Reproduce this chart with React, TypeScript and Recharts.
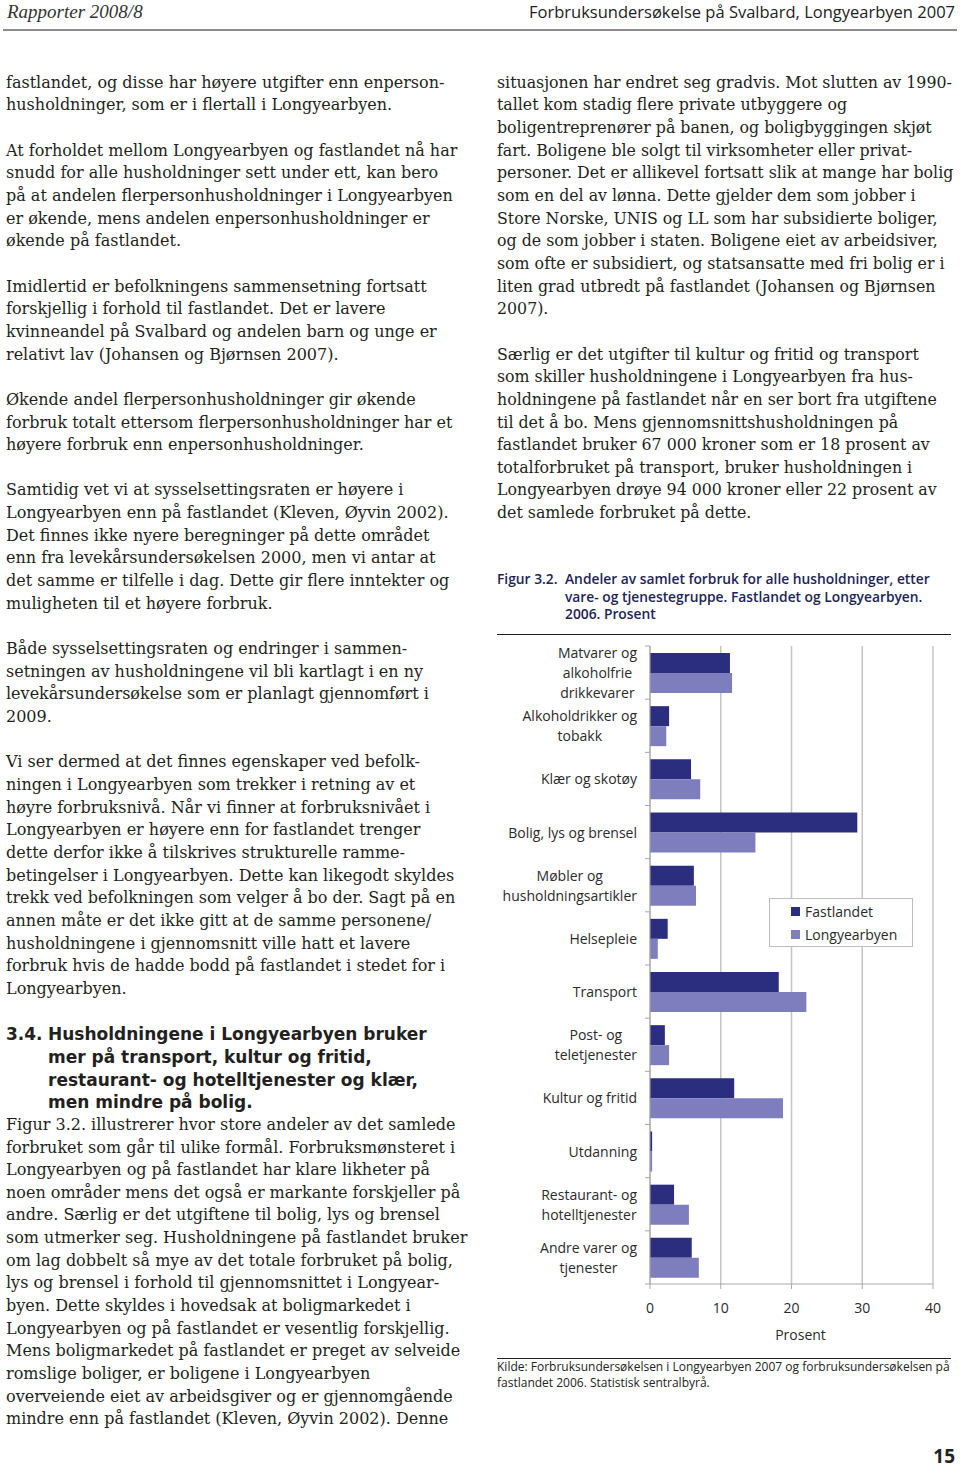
import React from 'react';
import { BarChart, Bar, XAxis, YAxis, CartesianGrid, Legend } from 'recharts';

const categories = [
  'Matvarer og\nalkoholfrie\ndrikkevarer',
  'Alkoholdrikker og\ntobakk',
  'Klær og skotøy',
  'Bolig, lys og brensel',
  'Møbler og\nhusholdningsartikler',
  'Helsepleie',
  'Transport',
  'Post- og\nteletjenester',
  'Kultur og fritid',
  'Utdanning',
  'Restaurant- og\nhotelltjenester',
  'Andre varer og\ntjenester',
];
const fastlandet = [11.3, 2.7, 5.8, 29.3, 6.2, 2.5, 18.2, 2.1, 11.9, 0.3, 3.4, 5.9];
const longyearbyen = [11.6, 2.3, 7.1, 14.9, 6.5, 1.1, 22.1, 2.7, 18.8, 0.3, 5.5, 6.9];
const xTicks = [0, 10, 20, 30, 40];

const leftLines = [
  'fastlandet, og disse har høyere utgifter enn enperson-',
  'husholdninger, som er i flertall i Longyearbyen.',
  '',
  'At forholdet mellom Longyearbyen og fastlandet nå har',
  'snudd for alle husholdninger sett under ett, kan bero',
  'på at andelen flerpersonhusholdninger i Longyearbyen',
  'er økende, mens andelen enpersonhusholdninger er',
  'økende på fastlandet.',
  '',
  'Imidlertid er befolkningens sammensetning fortsatt',
  'forskjellig i forhold til fastlandet. Det er lavere',
  'kvinneandel på Svalbard og andelen barn og unge er',
  'relativt lav (Johansen og Bjørnsen 2007).',
  '',
  'Økende andel flerpersonhusholdninger gir økende',
  'forbruk totalt ettersom flerpersonhusholdninger har et',
  'høyere forbruk enn enpersonhusholdninger.',
  '',
  'Samtidig vet vi at sysselsettingsraten er høyere i',
  'Longyearbyen enn på fastlandet (Kleven, Øyvin 2002).',
  'Det finnes ikke nyere beregninger på dette området',
  'enn fra levekårsundersøkelsen 2000, men vi antar at',
  'det samme er tilfelle i dag. Dette gir flere inntekter og',
  'muligheten til et høyere forbruk.',
  '',
  'Både sysselsettingsraten og endringer i sammen-',
  'setningen av husholdningene vil bli kartlagt i en ny',
  'levekårsundersøkelse som er planlagt gjennomført i',
  '2009.',
  '',
  'Vi ser dermed at det finnes egenskaper ved befolk-',
  'ningen i Longyearbyen som trekker i retning av et',
  'høyre forbruksnivå. Når vi finner at forbruksnivået i',
  'Longyearbyen er høyere enn for fastlandet trenger',
  'dette derfor ikke å tilskrives strukturelle ramme-',
  'betingelser i Longyearbyen. Dette kan likegodt skyldes',
  'trekk ved befolkningen som velger å bo der. Sagt på en',
  'annen måte er det ikke gitt at de samme personene/',
  'husholdningene i gjennomsnitt ville hatt et lavere',
  'forbruk hvis de hadde bodd på fastlandet i stedet for i',
  'Longyearbyen.',
  '',
  '#3.4.|Husholdningene i Longyearbyen bruker',
  '#|mer på transport, kultur og fritid,',
  '#|restaurant- og hotelltjenester og klær,',
  '#|men mindre på bolig.',
  'Figur 3.2. illustrerer hvor store andeler av det samlede',
  'forbruket som går til ulike formål. Forbruksmønsteret i',
  'Longyearbyen og på fastlandet har klare likheter på',
  'noen områder mens det også er markante forskjeller på',
  'andre. Særlig er det utgiftene til bolig, lys og brensel',
  'som utmerker seg. Husholdningene på fastlandet bruker',
  'om lag dobbelt så mye av det totale forbruket på bolig,',
  'lys og brensel i forhold til gjennomsnittet i Longyear-',
  'byen. Dette skyldes i hovedsak at boligmarkedet i',
  'Longyearbyen og på fastlandet er vesentlig forskjellig.',
  'Mens boligmarkedet på fastlandet er preget av selveide',
  'romslige boliger, er boligene i Longyearbyen',
  'overveiende eiet av arbeidsgiver og er gjennomgående',
  'mindre enn på fastlandet (Kleven, Øyvin 2002). Denne',
];

const rightLines = [
  'situasjonen har endret seg gradvis. Mot slutten av 1990-',
  'tallet kom stadig flere private utbyggere og',
  'boligentreprenører på banen, og boligbyggingen skjøt',
  'fart. Boligene ble solgt til virksomheter eller privat-',
  'personer. Det er allikevel fortsatt slik at mange har bolig',
  'som en del av lønna. Dette gjelder dem som jobber i',
  'Store Norske, UNIS og LL som har subsidierte boliger,',
  'og de som jobber i staten. Boligene eiet av arbeidsiver,',
  'som ofte er subsidiert, og statsansatte med fri bolig er i',
  'liten grad utbredt på fastlandet (Johansen og Bjørnsen',
  '2007).',
  '',
  'Særlig er det utgifter til kultur og fritid og transport',
  'som skiller husholdningene i Longyearbyen fra hus-',
  'holdningene på fastlandet når en ser bort fra utgiftene',
  'til det å bo. Mens gjennomsnittshusholdningen på',
  'fastlandet bruker 67 000 kroner som er 18 prosent av',
  'totalforbruket på transport, bruker husholdningen i',
  'Longyearbyen drøye 94 000 kroner eller 22 prosent av',
  'det samlede forbruket på dette.',
];

const captionLines = [
  'Andeler av samlet forbruk for alle husholdninger, etter',
  'vare- og tjenestegruppe. Fastlandet og Longyearbyen.',
  '2006. Prosent',
];
const sourceLines = [
  'Kilde: Forbruksundersøkelsen i Longyearbyen 2007 og forbruksundersøkelsen på',
  'fastlandet 2006. Statistisk sentralbyrå.',
];

const data = categories.map((name, i) => ({
  name,
  Fastlandet: fastlandet[i],
  Longyearbyen: longyearbyen[i],
}));

const DARK = '#2b2e7e';
const LIGHT = '#7e7dbd';
const AXIS = '#a8a8a8';
const GRID = '#c4c4c4';
const INK = '#231f20';
const SANS = '"Open Sans", "Noto Sans", sans-serif';
const SERIF = '"DejaVu Serif", serif';
const LABEL_SIZE = 14;

const CHART_W = 460;
const CHART_H = 720;
const MARGIN = { top: 16, right: 17, bottom: 36, left: 10 };
const X_AXIS_H = 30;
const LINE_H = 22.67;

let ctx: CanvasRenderingContext2D | null = null;
function textWidth(s: string) {
  if (!ctx) ctx = document.createElement('canvas').getContext('2d');
  if (!ctx) return s.length * 7;
  ctx.font = `${LABEL_SIZE}px "Open Sans"`;
  return ctx.measureText(s).width;
}

function CategoryTick(props: any) {
  const { x, y, payload, index } = props;
  const axisX = x + 13;
  const band = (CHART_H - MARGIN.top - MARGIN.bottom - X_AXIS_H) / categories.length;
  const half = band / 2;
  const lines = String(payload.value).split('\n');
  const maxW = Math.max(...lines.map(textWidth));
  const cx = x - maxW / 2;
  const startY = y - ((lines.length - 1) * 20) / 2;
  return (
    <g>
      <line x1={axisX - 5} x2={axisX} y1={y - half} y2={y - half} stroke={AXIS} />
      {index === categories.length - 1 && (
        <line x1={axisX - 5} x2={axisX} y1={y + half} y2={y + half} stroke={AXIS} />
      )}
      {lines.map((l, i) => (
        <text key={i} x={cx} y={startY + i * 20} textAnchor="middle" dominantBaseline="central"
          fill="#2a2a2a" fontSize={LABEL_SIZE} fontFamily={SANS}>{l}</text>
      ))}
    </g>
  );
}

function LegendBox(props: any) {
  const items = props.payload || [];
  return (
    <div style={{ width: 142, height: 47, border: '1px solid #bdbdbd', background: '#fff',
      fontFamily: SANS, fontSize: LABEL_SIZE, color: '#2a2a2a', position: 'relative' }}>
      {items.map((it: any, i: number) => (
        <div key={i} style={{ position: 'absolute', left: 21, top: 3 + i * 23, height: 18,
          display: 'flex', alignItems: 'center', whiteSpace: 'nowrap' }}>
          <span style={{ display: 'inline-block', width: 9, height: 9, background: it.color, marginRight: 5 }} />
          {it.value}
        </div>
      ))}
    </div>
  );
}

function TextLine({ text }: { text: string }) {
  if (text.startsWith('#')) {
    const [num, rest] = text.slice(1).split('|');
    return (
      <div style={{ height: LINE_H, lineHeight: `${LINE_H}px`, fontFamily: '"DejaVu Sans", sans-serif',
        fontWeight: 700, fontSize: 17, whiteSpace: 'nowrap' }}>
        <span style={{ display: 'inline-block', width: 42 }}>{num}</span>{rest}
      </div>
    );
  }
  return <div style={{ height: LINE_H, lineHeight: `${LINE_H}px`, whiteSpace: 'nowrap' }}>{text}</div>;
}

export default function App() {
  return (
    <div style={{ position: 'absolute', left: 0, top: 0, width: 960, height: 1469, background: '#fff',
      overflow: 'hidden', color: INK }}>
      <div style={{ position: 'absolute', left: 7, top: 0, height: 24, lineHeight: '24px',
        fontFamily: '"Liberation Serif", serif', fontStyle: 'italic', fontSize: 19, color: '#333' }}>
        Rapporter 2008/8
      </div>
      <div style={{ position: 'absolute', right: 5, top: 0, height: 24, lineHeight: '24px',
        fontFamily: SANS, fontSize: 16.5, color: '#222' }}>
        Forbruksundersøkelse på Svalbard, Longyearbyen 2007
      </div>
      <div style={{ position: 'absolute', left: 3, top: 29, width: 954, height: 2, background: '#8c8c8c' }} />

      <div style={{ position: 'absolute', left: 6, top: 83 - LINE_H / 2, fontFamily: SERIF, fontSize: 16 }}>
        {leftLines.map((t, i) => <TextLine key={i} text={t} />)}
      </div>
      <div style={{ position: 'absolute', left: 497, top: 83 - LINE_H / 2, fontFamily: SERIF, fontSize: 15.8 }}>
        {rightLines.map((t, i) => <TextLine key={i} text={t} />)}
      </div>

      <div style={{ position: 'absolute', left: 497, top: 570, fontFamily: SANS, fontWeight: 600,
        fontSize: 13.8, lineHeight: '17.5px', color: '#1d2455' }}>
        Figur 3.2.
      </div>
      <div style={{ position: 'absolute', left: 565, top: 570, fontFamily: SANS, fontWeight: 600,
        fontSize: 13.8, lineHeight: '17.5px', color: '#1d2455', whiteSpace: 'nowrap' }}>
        {captionLines.map((l, i) => <div key={i}>{l}</div>)}
      </div>
      <div style={{ position: 'absolute', left: 497, top: 634, width: 454, height: 1, background: '#222' }} />

      <div style={{ position: 'absolute', left: 490, top: 630, width: CHART_W, height: CHART_H }}>
        <BarChart width={CHART_W} height={CHART_H} data={data} layout="vertical" margin={MARGIN}
          barSize={20} barGap={0} style={{ fontFamily: SANS }}>
          <CartesianGrid horizontal={false} stroke={GRID} strokeWidth={1.5} />
          <XAxis type="number" domain={[0, 40]} ticks={xTicks} height={X_AXIS_H}
            axisLine={{ stroke: AXIS }} tickLine={{ stroke: AXIS }} tickSize={5} tickMargin={14}
            tick={{ fill: '#2a2a2a', fontSize: LABEL_SIZE, fontFamily: SANS }}
            label={{ value: 'Prosent', position: 'bottom', offset: 16, dx: 9, fill: '#2a2a2a',
              fontSize: LABEL_SIZE, fontFamily: SANS }} />
          <YAxis type="category" dataKey="name" width={150} interval={0}
            axisLine={{ stroke: AXIS }} tickLine={false} tickSize={0} tickMargin={13}
            tick={<CategoryTick />} />
          <Legend layout="vertical" align="center" verticalAlign="middle" content={<LegendBox />}
            wrapperStyle={{ left: 279, top: 268, width: 144, height: 49 }} />
          <Bar dataKey="Fastlandet" fill={DARK} isAnimationActive={false} />
          <Bar dataKey="Longyearbyen" fill={LIGHT} isAnimationActive={false} />
        </BarChart>
      </div>

      <div style={{ position: 'absolute', left: 497, top: 1358, width: 454, height: 1, background: '#222' }} />
      <div style={{ position: 'absolute', left: 497, top: 1359, fontFamily: SANS, fontSize: 12,
        lineHeight: '16px', color: '#222', whiteSpace: 'nowrap' }}>
        {sourceLines.map((l, i) => <div key={i}>{l}</div>)}
      </div>

      <div style={{ position: 'absolute', right: 5, top: 1446, fontFamily: SANS, fontWeight: 700,
        fontSize: 19, lineHeight: '20px', height: 20, color: '#222' }}>
        15
      </div>
    </div>
  );
}
